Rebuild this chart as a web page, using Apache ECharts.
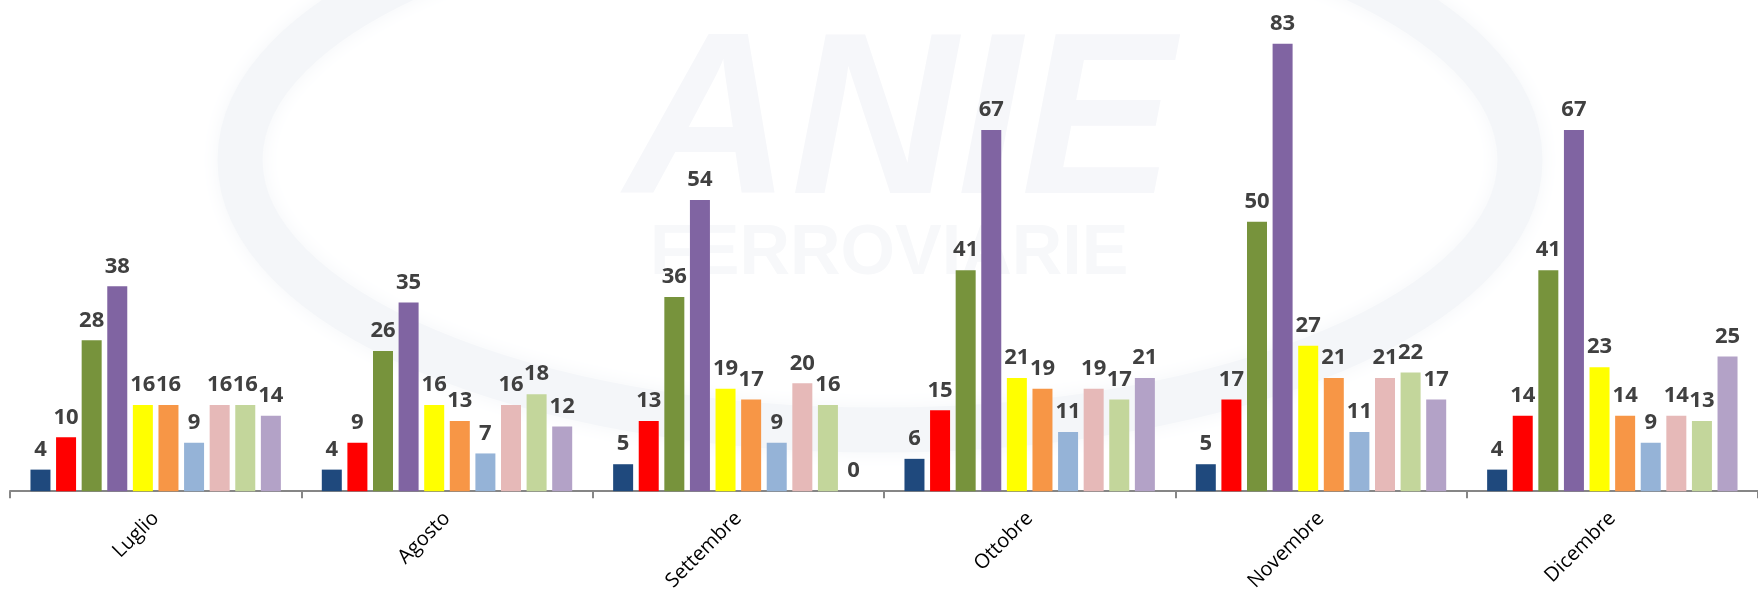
<!DOCTYPE html>
<html>
<head>
<meta charset="utf-8">
<script src="https://cdn.jsdelivr.net/npm/echarts@6/dist/echarts.min.js"></script>
<style>
  html, body { margin: 0; padding: 0; background: #ffffff; }
  #chart { width: 1758px; height: 594px; }
</style>
</head>
<body>
<div id="chart"></div>
<script>
// mesi
const months = ['Luglio', 'Agosto', 'Settembre', 'Ottobre', 'Novembre', 'Dicembre']

// una serie per ogni colore (valori per mese)
const s1 = [4, 4, 5, 6, 5, 4]
const s2 = [10, 9, 13, 15, 17, 14]
const s3 = [28, 26, 36, 41, 50, 41]
const s4 = [38, 35, 54, 67, 83, 67]
const s5 = [16, 16, 19, 21, 27, 23]
const s6 = [16, 13, 17, 19, 21, 14]
const s7 = [9, 7, 9, 11, 11, 9]
const s8 = [16, 16, 20, 19, 21, 14]
const s9 = [16, 18, 16, 17, 22, 13]
const s10 = [14, 12, 0, 21, 17, 25]

const seriesData = [s1, s2, s3, s4, s5, s6, s7, s8, s9, s10]
const colors = ['#1F497D', '#FF0000', '#77933C', '#8064A2', '#FFFF00',
  '#F79646', '#95B3D7', '#E6B9B8', '#C3D69B', '#B3A2C7']

const chart = echarts.init(document.getElementById('chart'))

chart.setOption({
  animation: false,
  backgroundColor: '#ffffff',
  // logo in filigrana, molto chiaro
  graphic: [
    {
      type: 'ellipse', z: -10, silent: true,
      shape: { cx: 880, cy: 160, rx: 640, ry: 270 },
      style: { fill: 'none', stroke: '#f4f6f9', lineWidth: 45, shadowBlur: 20, shadowColor: '#f4f6f9' }
    },
    {
      type: 'text', z: -9, silent: true, left: 625, top: 15,
      style: { text: 'ANIE', font: 'italic bold 230px "Liberation Sans"', fill: '#f6f7fa' }
    },
    {
      type: 'text', z: -9, silent: true, left: 650, top: 220,
      style: { text: 'FERROVIARIE', font: 'bold 70px "Liberation Sans"', fill: '#f7f8fa' }
    }
  ],
  grid: { left: 10, right: -8, top: 6, bottom: 101 },
  xAxis: {
    type: 'category',
    data: months,
    axisLine: { lineStyle: { color: '#868686', width: 2 } },
    axisTick: { show: true, length: 7, lineStyle: { color: '#868686', width: 2 } },
    axisLabel: {
      rotate: 45,
      margin: 24,
      fontSize: 20,
      color: '#000000',
      fontFamily: 'Open Sans'
    }
  },
  yAxis: {
    type: 'value',
    min: 0,
    max: 90,
    show: false,
    splitLine: { show: false }
  },
  series: seriesData.map((d, i) => ({
    type: 'bar',
    data: d,
    barWidth: 20,
    barGap: '28%',
    itemStyle: { color: colors[i] },
    label: {
      show: true,
      position: 'top',
      distance: 9,
      fontSize: 22,
      fontWeight: 'bold',
      color: '#404040',
      fontFamily: 'Open Sans'
    }
  }))
})
</script>
</body>
</html>
